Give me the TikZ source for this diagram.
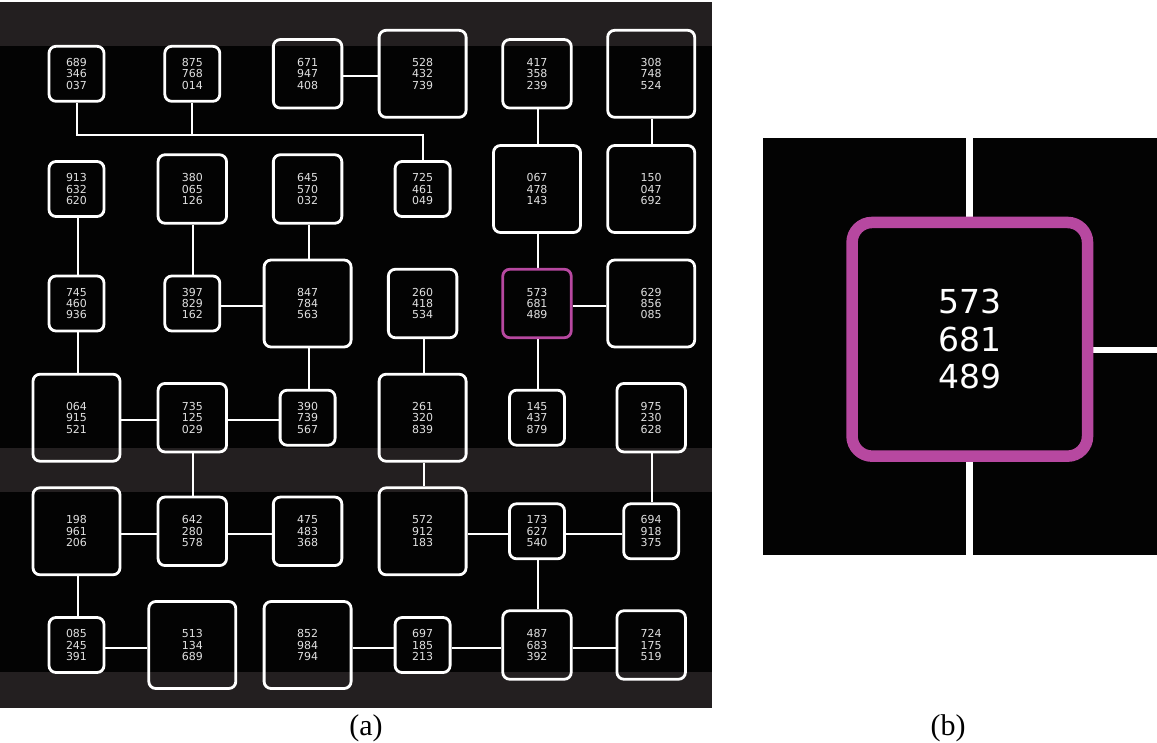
\documentclass[tikz,border=0pt]{standalone}
\usepackage{fontspec}
\newfontfamily\digitfont{DejaVu Sans}
\newfontfamily\capfont{Liberation Serif}
\usetikzlibrary{backgrounds}
\definecolor{bandgray}{RGB}{35,31,32}
\definecolor{panelblack}{RGB}{3,3,3}
\definecolor{hilite}{RGB}{183,72,160}
\definecolor{digitgray}{RGB}{225,225,225}
\begin{document}
\begin{tikzpicture}[x=1pt,y=-1pt,
  cell/.style={draw=white, line width=2.8pt, rounded corners=7pt, inner sep=0pt,
    align=center, text=digitgray, font=\digitfont\fontsize{11}{11.4}\selectfont},
  boxS/.style={cell, minimum width=55pt, minimum height=55pt},
  boxM/.style={cell, minimum width=68.5pt, minimum height=68.5pt},
  boxL/.style={cell, minimum width=87pt, minimum height=87pt},
  conn/.style={draw=white, line width=2pt},
  bigconn/.style={draw=white, line width=6.7pt},
  caption/.style={font=\capfont\fontsize{30}{32}\selectfont, anchor=base, text=black}]
\useasboundingbox (0,0) rectangle (1157,742);
% ---- panel (a) nodes
% row 1
\node[boxS] (n689) at (76.5,73.8) {689\\346\\037};
\node[boxS] (n875) at (192.3,73.8) {875\\768\\014};
\node[boxM] (n671) at (307.6,73.8) {671\\947\\408};
\node[boxL] (n528) at (422.6,73.8) {528\\432\\739};
\node[boxM] (n417) at (537,73.8) {417\\358\\239};
\node[boxL] (n308) at (651.2,73.8) {308\\748\\524};
% row 2
\node[boxS] (n913) at (76.5,189) {913\\632\\620};
\node[boxM] (n380) at (192.3,189) {380\\065\\126};
\node[boxM] (n645) at (307.6,189) {645\\570\\032};
\node[boxS] (n725) at (422.6,189) {725\\461\\049};
\node[boxL] (n067) at (537,189) {067\\478\\143};
\node[boxL] (n150) at (651.2,189) {150\\047\\692};
% row 3
\node[boxS] (n745) at (76.5,303.5) {745\\460\\936};
\node[boxS] (n397) at (192.3,303.5) {397\\829\\162};
\node[boxL] (n847) at (307.6,303.5) {847\\784\\563};
\node[boxM] (n260) at (422.6,303.5) {260\\418\\534};
\node[boxM, draw=hilite] (n573) at (537,303.5) {573\\681\\489};
\node[boxL] (n629) at (651.2,303.5) {629\\856\\085};
% row 4
\node[boxL] (n064) at (76.5,417.7) {064\\915\\521};
\node[boxM] (n735) at (192.3,417.7) {735\\125\\029};
\node[boxS] (n390) at (307.6,417.7) {390\\739\\567};
\node[boxL] (n261) at (422.6,417.7) {261\\320\\839};
\node[boxS] (n145) at (537,417.7) {145\\437\\879};
\node[boxM] (n975) at (651.2,417.7) {975\\230\\628};
% row 5
\node[boxL] (n198) at (76.5,531.3) {198\\961\\206};
\node[boxM] (n642) at (192.3,531.3) {642\\280\\578};
\node[boxM] (n475) at (307.6,531.3) {475\\483\\368};
\node[boxL] (n572) at (422.6,531.3) {572\\912\\183};
\node[boxS] (n173) at (537,531.3) {173\\627\\540};
\node[boxS] (n694) at (651.2,531.3) {694\\918\\375};
% row 6
\node[boxS] (n085) at (76.5,645) {085\\245\\391};
\node[boxL] (n513) at (192.3,645) {513\\134\\689};
\node[boxL] (n852) at (307.6,645) {852\\984\\794};
\node[boxS] (n697) at (422.6,645) {697\\185\\213};
\node[boxM] (n487) at (537,645) {487\\683\\392};
\node[boxM] (n724) at (651.2,645) {724\\175\\519};
\coordinate (busy) at (0,135);
% ---- panel (b) nodes
\coordinate (btop) at (969.3,137.7);
\coordinate (bbot) at (969.3,555);
\coordinate (bright) at (1157,350);
\node[draw=hilite, line width=11.5pt, rounded corners=20pt, minimum width=235.5pt,
  minimum height=233.7pt, inner sep=0pt, align=center, text=white,
  font=\digitfont\fontsize{33}{37.5}\selectfont] (big) at (969.8,339.3) {573\\681\\489};
% ---- captions
\node[caption] (capa) at (366,735) {(a)};
\node[caption] (capb) at (948,735) {(b)};
\begin{pgfonlayer}{background}
  \fill[bandgray] (0,1.7) rectangle (712,708);
  \fill[panelblack] (0,46) rectangle (712,448);
  \fill[panelblack] (0,492) rectangle (712,672);
  \fill[panelblack] (763,137.7) rectangle (1157,555);
  % bus
  \draw[conn] (n689.south) -- (n689.south |- busy) -| (n725.north);
  \draw[conn] (n875.south) -- (n875.south |- busy);
  % vertical connectors
  \foreach \a/\b in {n417/n067, n308/n150, n913/n745, n380/n397, n645/n847,
      n067/n573, n745/n064, n847/n390, n260/n261, n573/n145, n735/n642,
      n261/n572, n975/n694, n198/n085, n173/n487}
    \draw[conn] ([xshift=1pt]\a.south) -- ([xshift=1pt]\b.north);
  % horizontal connectors
  \foreach \a/\b in {n671/n528, n397/n847, n573/n629, n064/n735, n735/n390,
      n198/n642, n642/n475, n572/n173, n173/n694, n085/n513, n852/n697,
      n697/n487, n487/n724}
    \draw[conn] ([yshift=-2.5pt]\a.east) -- ([yshift=-2.5pt]\b.west);
  % panel (b) connectors
  \draw[bigconn] (btop) -- (btop |- big.north);
  \draw[bigconn] (btop |- big.south) -- (bbot);
  \draw[bigconn] (big.east |- bright) -- (bright);
\end{pgfonlayer}
\end{tikzpicture}
\end{document}
